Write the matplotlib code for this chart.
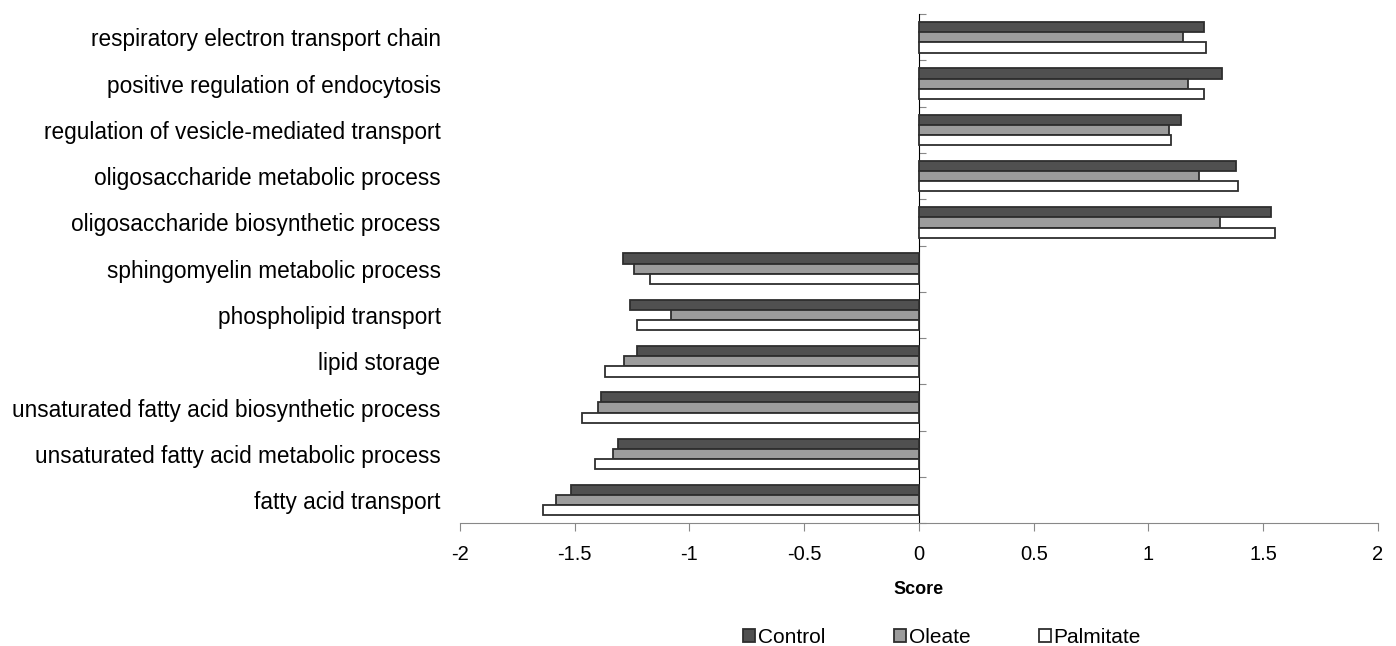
import numpy as np
import matplotlib
matplotlib.use("Agg")
from matplotlib import pyplot as plt

plt.rcParams['font.family'] = ['Liberation Sans', 'DejaVu Sans']

categories = ["respiratory electron transport chain",
              "positive regulation of endocytosis",
              "regulation of vesicle-mediated transport",
              "oligosaccharide metabolic process",
              "oligosaccharide biosynthetic process",
              "sphingomyelin metabolic process",
              "phospholipid transport",
              "lipid storage",
              "unsaturated fatty acid biosynthetic process",
              "unsaturated fatty acid metabolic process",
              "fatty acid transport"]
control = [1.24, 1.32, 1.14, 1.38, 1.535, -1.29, -1.26, -1.23, -1.385, -1.31, -1.515]
oleate = [1.15, 1.17, 1.09, 1.22, 1.31, -1.24, -1.08, -1.285, -1.40, -1.335, -1.58]
palmitate = [1.25, 1.24, 1.10, 1.39, 1.55, -1.17, -1.23, -1.37, -1.47, -1.41, -1.64]
series = [("Control", control, "#505050"),
          ("Oleate", oleate, "#9c9c9c"),
          ("Palmitate", palmitate, "white")]
xticks = [-2, -1.5, -1, -0.5, 0, 0.5, 1, 1.5, 2]

fig = plt.figure(figsize=(13.96, 6.46), dpi=100)
ax = fig.add_axes([0.3295, 0.19, 0.6576, 0.788])

y = np.arange(len(categories))
h = 0.22
for i, (name, vals, col) in enumerate(series):
    ax.barh(y + (i - 1) * h, vals, height=h, color=col, edgecolor="#2e2e2e",
            linewidth=1.3, label=name)

ax.set_xlim(-2, 2)
ax.set_ylim(len(categories) - 0.5, -0.5)
ax.set_xticks(xticks)
ax.set_xticklabels([f"{t:g}" for t in xticks], fontsize=14.5)
ax.tick_params(axis='x', direction='out', length=6, color="#888888", pad=10)
ax.set_xlabel("Score", fontsize=13, fontweight='bold', labelpad=12)

ax.set_yticks(y)
ax.set_yticklabels(categories, fontsize=16.3)
ax.tick_params(axis='y', length=0, pad=14)

for s in ['top', 'right', 'left']:
    ax.spines[s].set_visible(False)
ax.spines['bottom'].set_color("#888888")

# vertical axis line at zero with ticks between groups
sec = ax.secondary_yaxis(0.5)
sec.set_yticks(np.arange(-0.5, len(categories), 1.0))
sec.set_yticklabels([])
sec.tick_params(axis='y', direction='out', length=5, color="#888888")
sec.spines['left'].set_color("#888888")

leg = fig.legend(loc='lower center', bbox_to_anchor=(0.675, -0.03), ncol=3,
                 frameon=False, fontsize=15, handlelength=0.55, handleheight=0.55,
                 handletextpad=0.15, columnspacing=3.3)

fig.savefig("out.png", dpi=100)
